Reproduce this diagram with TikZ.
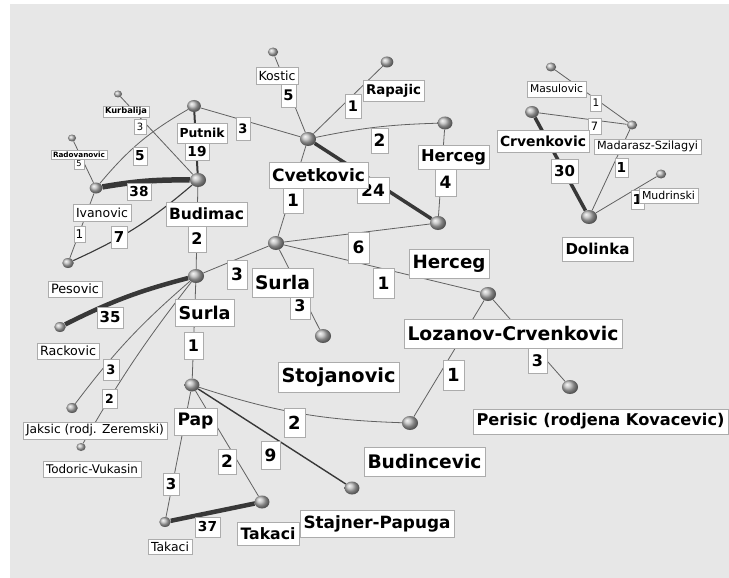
\documentclass[tikz,border=0pt]{standalone}
\usepackage{fontspec}
\setmainfont{DejaVu Sans}
\usetikzlibrary{shapes.geometric}
\newlength\lblw
\newcommand\fitt[3]{\settowidth\lblw{\fontsize{10}{12}\selectfont#1#3}\pgfmathsetmacro\lblfs{10*#2/\lblw}\fontsize{\lblfs}{\lblfs}\selectfont#1#3}
\newcommand\fitb[2]{\fitt{\bfseries}{#1}{#2}}
\newcommand\fitn[2]{\fitt{\mdseries}{#1}{#2}}
\definecolor{bgc}{gray}{0.905}
\tikzset{
  sp/.style={ellipse, inner sep=0pt, shading=ball, ball color=gray!55, minimum width={2.3*#1pt}, minimum height={2*#1pt}},
  lbox/.style={draw=gray!65, fill=white, line width=0.6pt, inner sep=0pt},
  nm/.style 2 args={lbox, minimum width=#1pt, minimum height=#2pt},
  nb/.style n args={3}{lbox, minimum width=#1pt, minimum height=#2pt, font=\fontsize{#3}{#3}\selectfont\bfseries},
  nn/.style n args={3}{lbox, minimum width=#1pt, minimum height=#2pt, font=\fontsize{#3}{#3}\selectfont},
  e/.style={draw=black!62, line width=0.8pt},
  ew/.style={draw=black!78, line width=#1pt},
}
\begin{document}
\begin{tikzpicture}[x=1pt,y=-1pt]
\useasboundingbox (0,0) rectangle (729,578);
\clip (0,0) rectangle (729,578);
\fill[white] (0,0) rectangle (729,578);
\fill[bgc] (10,4) rectangle (729,578);
% spheres
\node[sp=3.5] (kur) at (118,94) {};
\node[sp=3.5] (rad) at (72,138) {};
\node[sp=6] (put) at (194,106) {};
\node[sp=7] (bud) at (198,180) {};
\node[sp=5.5] (iva) at (96,188) {};
\node[sp=4.5] (kos) at (273,52) {};
\node[sp=5.5] (rap) at (387,62) {};
\node[sp=7] (cve) at (308,139) {};
\node[sp=6.5] (her) at (445,123) {};
\node[sp=7] (herl) at (438,223) {};
\node[sp=7] (sur) at (276,243) {};
\node[sp=7] (sto) at (323,336) {};
\node[sp=7] (loz) at (488,294) {};
\node[sp=7] (per) at (570,387) {};
\node[sp=7] (bdc) at (410,423) {};
\node[sp=6.5] (sta) at (352,488) {};
\node[sp=6.5] (tkr) at (262,502) {};
\node[sp=6.5] (pap) at (192,385) {};
\node[sp=5] (tkl) at (165,522) {};
\node[sp=7] (srl) at (196,276) {};
\node[sp=5] (pes) at (68,263) {};
\node[sp=5] (rac) at (60,327) {};
\node[sp=5] (jak) at (72,408) {};
\node[sp=4] (tod) at (81,447) {};
\node[sp=4.5] (mas) at (551,67) {};
\node[sp=6] (crv) at (532,112) {};
\node[sp=4.5] (mad) at (632,125) {};
\node[sp=4.5] (mud) at (661,174) {};
\node[sp=7] (dol) at (589,217) {};
% edges
\draw[e] (kur) -- (bud);
\draw[e] (rad) -- (iva);
\draw[e] (put) to[bend right=10] (iva);
\draw[ew=2] (put) -- (bud);
\draw[e] (put) -- (cve);
\draw[ew=5.5] (iva) to[bend left=5] (bud);
\draw[e] (iva) -- (pes);
\draw[ew=1.1] (bud) to[bend left=8] (pes);
\draw[e] (bud) -- (srl);
\draw[e] (cve) -- (kos);
\draw[e] (cve) -- (rap);
\draw[e] (cve) to[bend left=5] (her);
\draw[ew=3.5] (cve) -- (herl);
\draw[e] (her) -- (herl);
\draw[e] (cve) -- (sur);
\draw[e] (sur) -- (herl);
\draw[e] (sur) -- (loz);
\draw[e] (sur) -- (srl);
\draw[e] (sur) -- (sto);
\draw[ew=4.5] (srl) to[bend right=6] (rac);
\draw[e] (srl) to[bend right=6] (jak);
\draw[e] (srl) to[bend right=4] (tod);
\draw[e] (srl) -- (pap);
\draw[e] (pap) -- (tkl);
\draw[e] (pap) -- (tkr);
\draw[ew=1.4] (pap) -- (sta);
\draw[e] (pap) to[bend right=8] (bdc);
\draw[ew=4.5] (tkl) -- (tkr);
\draw[e] (loz) -- (bdc);
\draw[e] (loz) -- (per);
\draw[e] (mas) -- (mad);
\draw[e] (crv) -- (mad);
\draw[ew=3.5] (crv) -- (dol);
\draw[e] (mad) -- (dol);
\draw[e] (mud) -- (dol);
% weight labels
\node[nn={12}{15}{10}] (w1) at (140,126.5) {3};
\node[nn={10}{10}{8.2}] (w2) at (79,164) {5};
\node[nb={14}{18}{13.7}] (w3) at (140,156) {5};
\node[nb={24}{17}{13.7}] (w4) at (197,151.5) {19};
\node[nb={14}{23}{13}] (w5) at (243,128.5) {3};
\node[nb={24}{17}{13.7}] (w6) at (139,191.5) {38};
\node[nn={11}{16}{12}] (w7) at (79.5,234) {1};
\node[nb={16}{22}{15}] (w8) at (119,237) {7};
\node[nb={18}{26}{16}] (w9) at (197,239) {2};
\node[nb={15}{23}{14.6}] (w10) at (288.5,95.5) {5};
\node[nb={16}{24}{14.6}] (w11) at (353,106) {1};
\node[nb={17}{25}{17}] (w12) at (379.5,140.5) {2};
\node[nb={32}{26}{17}] (w13) at (373,190) {24};
\node[nb={21}{27}{17}] (w14) at (445.5,182.5) {4};
\node[nb={20}{25}{17}] (w15) at (293,200.5) {1};
\node[nb={21}{31}{17}] (w16) at (358.5,247.5) {6};
\node[nb={21}{30}{17}] (w17) at (383.5,283) {1};
\node[nb={20}{29}{17}] (w18) at (237,274.5) {3};
\node[nb={20}{26}{16}] (w19) at (300,306) {3};
\node[nb={26}{21}{15}] (w20) at (110,317.5) {35};
\node[nb={16}{21}{13}] (w21) at (111,369.5) {3};
\node[nb={15}{19}{12.5}] (w22) at (109.5,398.5) {2};
\node[nb={19}{27}{16}] (w23) at (193.5,345.5) {1};
\node[nb={16}{22}{15}] (w24) at (171,484) {3};
\node[nb={18}{25}{17}] (w25) at (227,461.5) {2};
\node[nb={19}{28}{17}] (w26) at (270.5,455) {9};
\node[nb={21}{29}{18}] (w27) at (294.5,422.5) {2};
\node[nb={25}{20}{13.7}] (w28) at (207.5,527) {37};
\node[nb={21}{30}{18}] (w29) at (453.5,375) {1};
\node[nb={19}{25}{16}] (w30) at (537.5,360.5) {3};
\node[nn={11}{16}{10.5}] (w31) at (596,103) {1};
\node[nn={13}{16}{11.5}] (w32) at (594.5,126) {7};
\node[nb={27}{24}{15}] (w33) at (564.5,171) {30};
\node[nb={13}{19}{13.7}] (w34) at (621.5,167.5) {1};
\node[nb={13}{19}{13.7}] (w35) at (637.5,199.5) {1};
% name labels
\node[nm={46}{11}] (lkur) at (126,111.5) {\fitb{42}{Kurbalija}};
\node[nm={56}{9}] (lrad) at (79,154.5) {\fitb{52}{Radovanovic}};
\node[nm={50}{20}] (lput) at (202,133) {\fitb{45}{Putnik}};
\node[nm={58}{17}] (liva) at (102,212.5) {\fitn{52}{Ivanovic}};
\node[nm={81}{24}] (lbud) at (206.5,214) {\fitb{75}{Budimac}};
\node[nm={42}{17}] (lkos) at (277,75.5) {\fitn{37}{Kostic}};
\node[nm={61}{21}] (lrap) at (393.5,90.5) {\fitb{55}{Rapajic}};
\node[nm={99}{26}] (lcve) at (318.5,175) {\fitb{93}{Cvetkovic}};
\node[nm={71}{24}] (lher) at (453.5,157) {\fitb{65}{Herceg}};
\node[nm={80}{29}] (lher2) at (449,263.5) {\fitb{73}{Herceg}};
\node[nm={61}{29}] (lsur) at (282.5,282.5) {\fitb{55}{Surla}};
\node[nm={59}{27}] (lsur2) at (204.5,312.5) {\fitb{52}{Surla}};
\node[nm={121}{30}] (lsto) at (338.5,377) {\fitb{114}{Stojanovic}};
\node[nm={218}{29}] (lloz) at (513,333.5) {\fitb{211}{Lozanov-Crvenkovic}};
\node[nm={255}{25}] (lper) at (600.5,421.5) {\fitb{248}{Perisic (rodjena Kovacevic)}};
\node[nm={121}{29}] (lbdc) at (424.5,461.5) {\fitb{114}{Budincevic}};
\node[nm={154}{27}] (lsta) at (377,523.5) {\fitb{147}{Stajner-Papuga}};
\node[nm={62}{23}] (ltkr) at (268,533.5) {\fitb{55}{Takaci}};
\node[nm={44}{15}] (ltkl) at (170,546.5) {\fitn{38}{Takaci}};
\node[nm={43}{27}] (lpap) at (195.5,421.5) {\fitb{36}{Pap}};
\node[nm={54}{16}] (lpes) at (75,289) {\fitn{48}{Pesovic}};
\node[nm={62}{16}] (lrac) at (68,351) {\fitn{56}{Rackovic}};
\node[nm={144}{17}] (ljak) at (95,430.5) {\fitn{138}{Jaksic (rodj. Zeremski)}};
\node[nm={98}{16}] (ltod) at (92,469) {\fitn{92}{Todoric-Vukasin}};
\node[nm={59}{16}] (lmas) at (556.5,89) {\fitn{53}{Masulovic}};
\node[nm={92}{22}] (lcrv) at (543,141) {\fitb{86}{Crvenkovic}};
\node[nm={107}{15}] (lmad) at (647.5,146.5) {\fitn{101}{Madarasz-Szilagyi}};
\node[nm={59}{15}] (lmud) at (668.5,195.5) {\fitn{53}{Mudrinski}};
\node[nm={71}{24}] (ldol) at (597.5,249) {\fitb{64}{Dolinka}};
\end{tikzpicture}
\end{document}
